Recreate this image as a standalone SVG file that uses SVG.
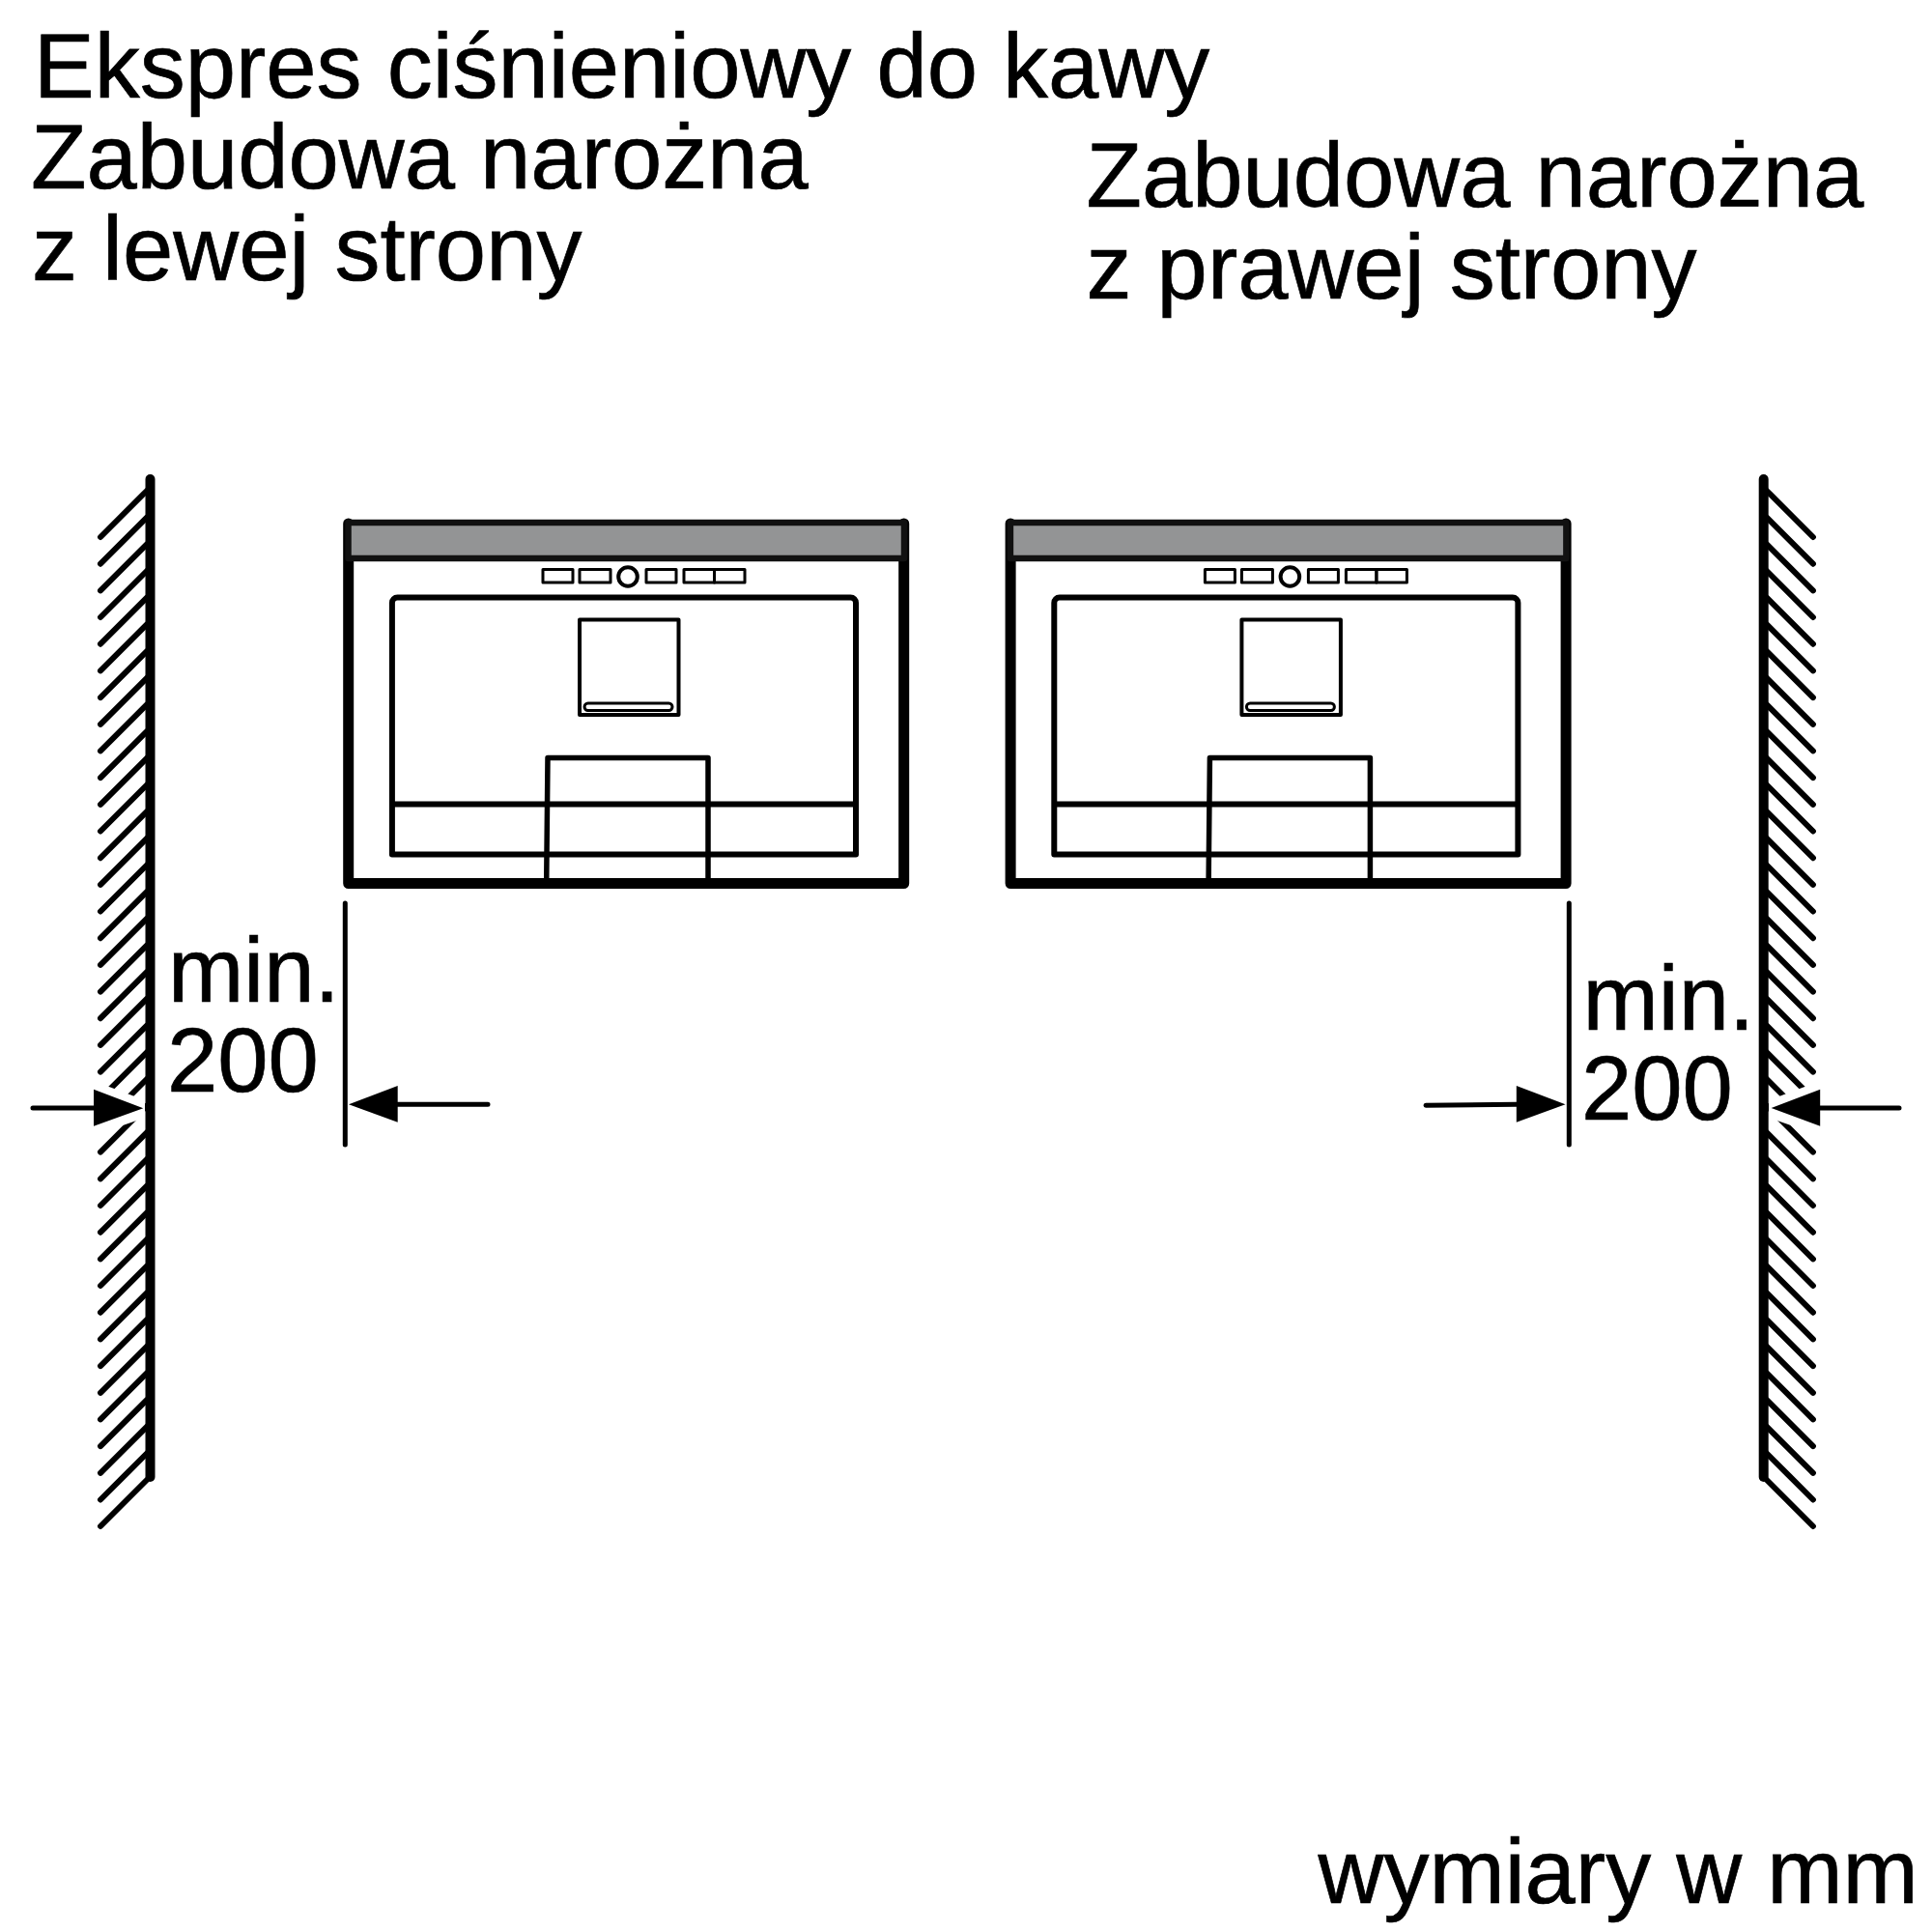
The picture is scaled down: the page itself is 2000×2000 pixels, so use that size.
<svg xmlns="http://www.w3.org/2000/svg" xmlns:xlink="http://www.w3.org/1999/xlink" width="2000" height="2000" viewBox="0 0 2000 2000">
<style>
text{font-family:"Liberation Sans",Arial,sans-serif;font-size:94px;fill:#000;stroke:#000;stroke-width:.7}
.ln{fill:none;stroke:#000;stroke-linecap:round;stroke-linejoin:round}
.hatch{fill:none;stroke:#000;stroke-width:6;stroke-linecap:round}
.head{fill:#000;stroke:none}
.halo{fill:#fff;stroke:none}
</style>
<defs>
<g id="machine">
<path class="ln" stroke-width="11" d="M360.700 542V914.500H935.700V542"/>
<rect x="360.500" y="541" width="575.500" height="37" fill="#939495" stroke="#111" stroke-width="6.500" stroke-linejoin="round"/>
<g class="ln" stroke-width="3">
<rect x="562" y="589.500" width="31" height="13.500"/>
<rect x="600" y="589.500" width="32" height="13.500"/>
<rect x="669" y="589.500" width="31" height="13.500"/>
<rect x="708" y="589.500" width="31.500" height="13.500"/>
<rect x="739.500" y="589.500" width="31.500" height="13.500"/>
</g>
<circle class="ln" stroke-width="4" cx="650" cy="597" r="9.800"/>
<path class="ln" stroke-width="6" d="M405.900 884.500V624a5.500 5.500 0 0 1 5.500-5.500H880.500a5.500 5.500 0 0 1 5.500 5.500V884.500Z"/>
<path fill="none" stroke="#000" stroke-width="6" d="M405.900 832.500H886"/>
<rect class="ln" stroke-width="4" x="600" y="641.500" width="102.500" height="98.500"/>
<rect class="ln" stroke-width="3" x="605" y="728" width="91" height="7.500" rx="3.700"/>
<path class="ln" stroke-width="5.500" d="M565.700 914L567 784.500H733V914"/>
</g>
</defs>
<g id="title">
<text x="35" y="101">Ekspres ciśnieniowy do kawy</text>
</g>
<g id="caption-left">
<text x="32" y="195">Zabudowa narożna</text>
<text x="33" y="290">z lewej strony</text>
</g>
<g id="caption-right">
<text x="1124.500" y="214">Zabudowa narożna</text>
<text x="1124.500" y="309">z prawej strony</text>
</g>
<g id="machine-left"><use href="#machine" xlink:href="#machine"/></g>
<g id="machine-right"><use href="#machine" xlink:href="#machine" x="685.400"/></g>
<g id="wall-left">
<path class="hatch" d="M104 556L152 508M104 583.700L152 535.700M104 611.400L152 563.400M104 639L152 591M104 666.700L152 618.700M104 694.400L152 646.400M104 722.100L152 674.100M104 749.800L152 701.800M104 777.400L152 729.400M104 805.100L152 757.100M104 832.800L152 784.800M104 860.500L152 812.500M104 888.200L152 840.200M104 915.800L152 867.800M104 943.500L152 895.500M104 971.200L152 923.200M104 998.900L152 950.900M104 1026.600L152 978.600M104 1054.200L152 1006.200M104 1081.900L152 1033.900M104 1109.600L152 1061.600M104 1137.300L152 1089.300M104 1165L152 1117M104 1192.600L152 1144.600M104 1220.300L152 1172.300M104 1248L152 1200M104 1275.700L152 1227.700M104 1303.400L152 1255.400M104 1331L152 1283M104 1358.700L152 1310.700M104 1386.400L152 1338.400M104 1414.100L152 1366.100M104 1441.800L152 1393.800M104 1469.400L152 1421.400M104 1497.100L152 1449.100M104 1524.800L152 1476.800M104 1552.500L152 1504.500M104 1580L152 1532"/>
<polygon class="halo" points="97,1119 150,1139 150,1157 97,1175.500"/>
<path class="ln" stroke-width="10" d="M155.500 496V1529"/>
</g>
<g id="wall-right">
<path class="hatch" d="M1876.900 556L1828.900 508M1876.900 583.700L1828.900 535.700M1876.900 611.400L1828.900 563.400M1876.900 639L1828.900 591M1876.900 666.700L1828.900 618.700M1876.900 694.400L1828.900 646.400M1876.900 722.100L1828.900 674.100M1876.900 749.800L1828.900 701.800M1876.900 777.400L1828.900 729.400M1876.900 805.100L1828.900 757.100M1876.900 832.800L1828.900 784.800M1876.900 860.500L1828.900 812.500M1876.900 888.200L1828.900 840.200M1876.900 915.800L1828.900 867.800M1876.900 943.500L1828.900 895.500M1876.900 971.200L1828.900 923.200M1876.900 998.900L1828.900 950.900M1876.900 1026.600L1828.900 978.600M1876.900 1054.200L1828.900 1006.200M1876.900 1081.900L1828.900 1033.900M1876.900 1109.600L1828.900 1061.600M1876.900 1137.300L1828.900 1089.300M1876.900 1165L1828.900 1117M1876.900 1192.600L1828.900 1144.600M1876.900 1220.300L1828.900 1172.300M1876.900 1248L1828.900 1200M1876.900 1275.700L1828.900 1227.700M1876.900 1303.400L1828.900 1255.400M1876.900 1331L1828.900 1283M1876.900 1358.700L1828.900 1310.700M1876.900 1386.400L1828.900 1338.400M1876.900 1414.100L1828.900 1366.100M1876.900 1441.800L1828.900 1393.800M1876.900 1469.400L1828.900 1421.400M1876.900 1497.100L1828.900 1449.100M1876.900 1524.800L1828.900 1476.800M1876.900 1552.500L1828.900 1504.500M1876.900 1580L1828.900 1532"/>
<polygon class="halo" points="1884.200,1119 1831,1139 1831,1157 1884.200,1175.500"/>
<path class="ln" stroke-width="10" d="M1825.700 496V1529"/>
</g>
<g id="connectors">
<path class="ln" stroke-width="5" d="M357.300 935V1185"/>
<path class="ln" stroke-width="5" d="M1624.300 935V1185"/>
<path class="ln" stroke-width="5" d="M34 1147H98M505 1143.300H411M1476 1144.300L1570 1143.300M1966 1147H1884"/>
<polygon class="head" points="148.300,1147.300 97,1127.700 97,1165.700"/>
<polygon class="head" points="361,1143.300 411.700,1124 411.700,1161.700"/>
<polygon class="head" points="1620.500,1143.300 1569.800,1124 1569.800,1161.700"/>
<polygon class="head" points="1833.600,1147 1884.200,1127.700 1884.200,1165.700"/>
</g>
<g id="dim-left">
<text x="174" y="1037">min.</text>
<text x="173" y="1130">200</text>
</g>
<g id="dim-right">
<text x="1638.500" y="1066">min.</text>
<text x="1637" y="1159">200</text>
</g>
<g id="units">
<text x="1364.500" y="1970">wymiary w mm</text>
</g>
</svg>
